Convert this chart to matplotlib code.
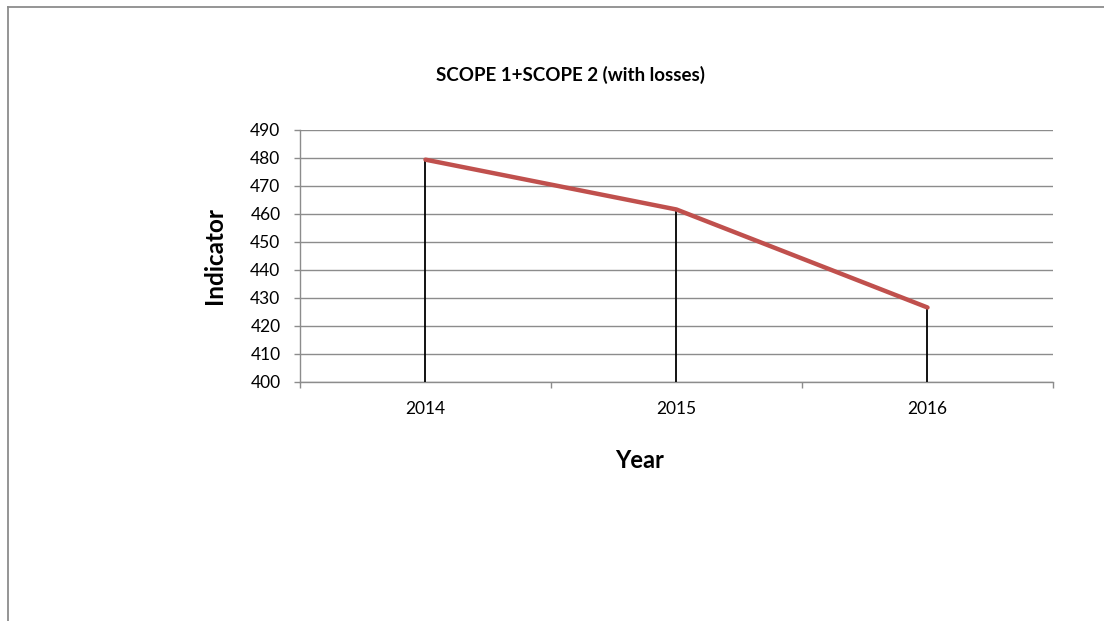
import matplotlib
matplotlib.use("Agg")
import matplotlib.pyplot as plt
from matplotlib.lines import Line2D

years = ["2014", "2015", "2016"]
values = [479.4, 461.6, 426.6]
y_ticks = [400, 410, 420, 430, 440, 450, 460, 470, 480, 490]
title = "SCOPE 1+SCOPE 2 (with losses)"
x_label = "Year"
y_label = "Indicator"

plt.rcParams['font.family'] = ['Lato', 'DejaVu Sans']

fig = plt.figure(figsize=(11.04, 6.21), dpi=100)
ax = fig.add_axes([0.2717, 0.3849, 0.6821, 0.4058])

x = list(range(len(years)))
ax.vlines(x, 400, values, colors='black', linewidth=1.3, zorder=3)
ax.plot(x, values, color='#C0504D', linewidth=3.2, solid_capstyle='round', zorder=4)

ax.set_xlim(-0.5, len(years) - 0.5)
ax.set_ylim(400, 490)
ax.set_yticks(y_ticks)
ax.set_yticklabels([str(v) for v in y_ticks], fontsize=12.5)
ax.yaxis.grid(True, color='#8c8c8c', linewidth=1.0)
ax.set_axisbelow(True)

ax.set_xticks([i - 0.5 for i in range(len(years) + 1)], minor=False)
ax.set_xticklabels([])
ax.set_xticks(x, minor=True)
ax.set_xticklabels(years, minor=True, fontsize=12.5)
ax.tick_params(axis='x', which='minor', length=0, pad=14)
ax.tick_params(axis='x', which='major', length=4, color='#8c8c8c', width=1)
ax.tick_params(axis='y', length=4, color='#8c8c8c', width=1, pad=10)

for s in ['top', 'right']:
    ax.spines[s].set_visible(False)
for s in ['left', 'bottom']:
    ax.spines[s].set_color('#8c8c8c')
    ax.spines[s].set_linewidth(1.0)

fig.text(571 / 1104, 1 - 75 / 621, title, ha='center', va='center', fontsize=13.5, fontweight='bold')
fig.text(640 / 1104, 1 - 461 / 621, x_label, ha='center', va='center', fontsize=17, fontweight='bold')
fig.text(215 / 1104, 1 - 255 / 621, y_label, ha='center', va='center', fontsize=17.5, fontweight='bold', rotation=90)

fig.add_artist(Line2D([8 / 1104, 8 / 1104], [0, 1 - 7 / 621], transform=fig.transFigure, color='#8c8c8c', linewidth=1.3))
fig.add_artist(Line2D([8 / 1104, 1], [1 - 7 / 621, 1 - 7 / 621], transform=fig.transFigure, color='#8c8c8c', linewidth=1.3))

fig.savefig("out.png", dpi=100)
